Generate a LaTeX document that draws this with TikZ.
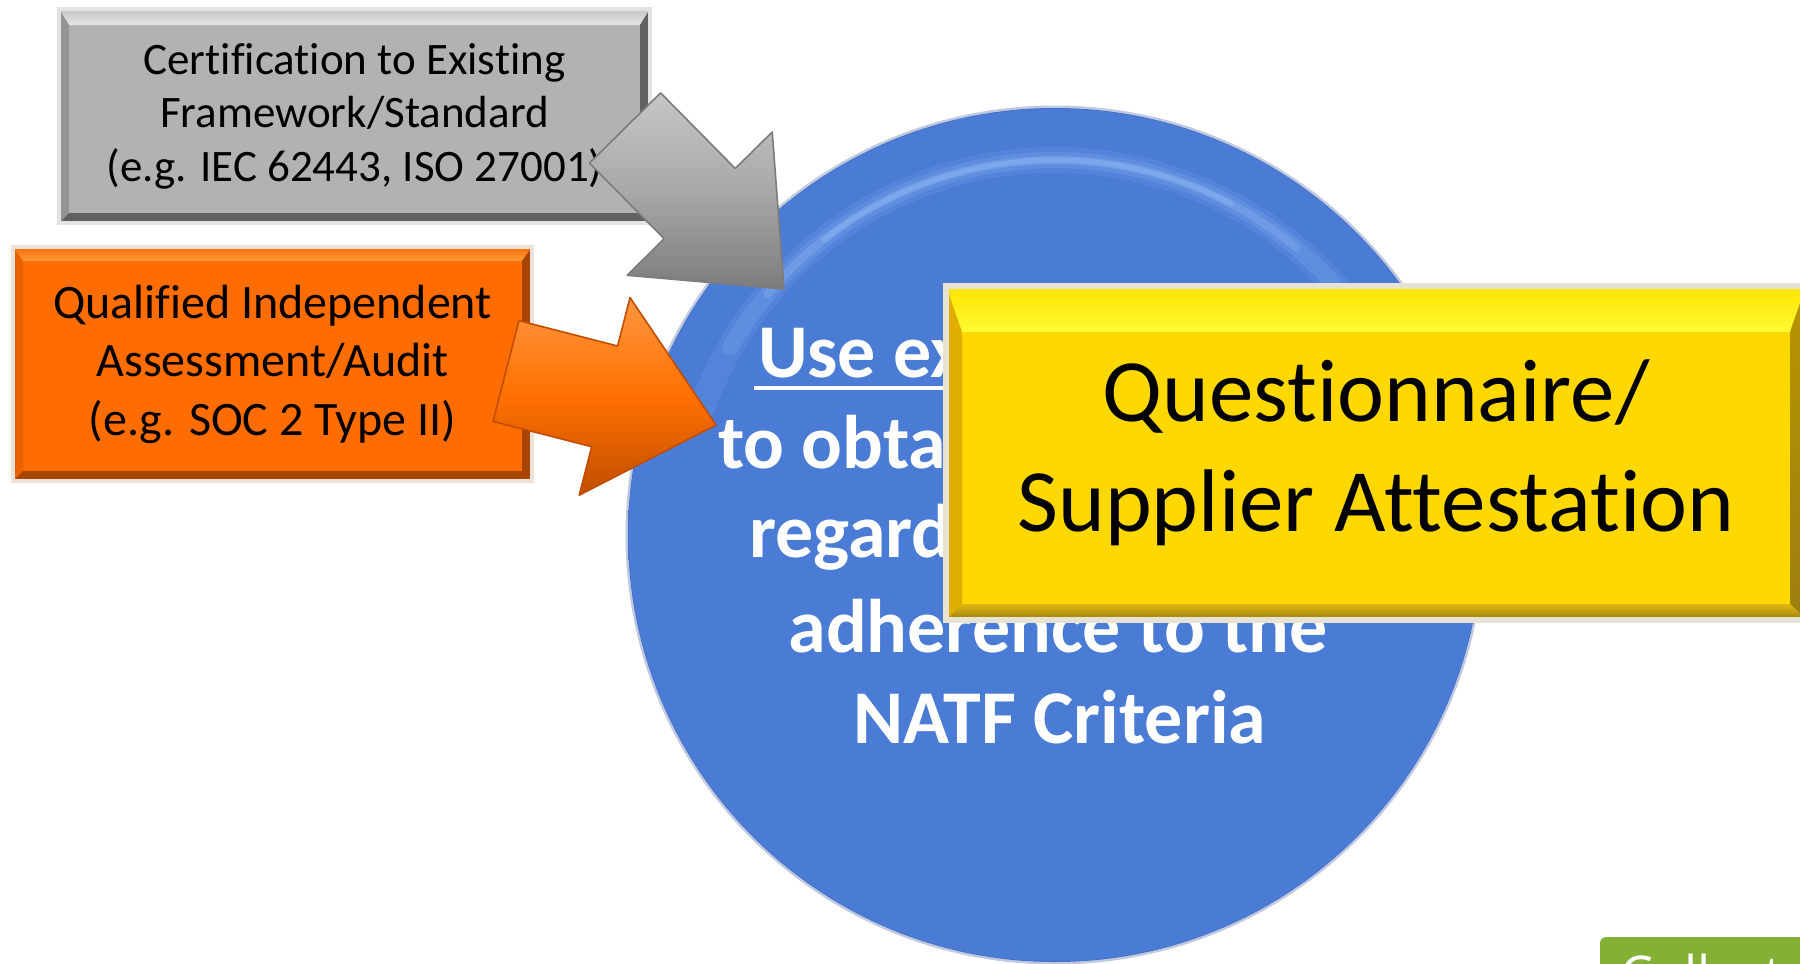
\documentclass[tikz,border=0pt]{standalone}
\usepackage{fontspec}
\setmainfont{Carlito}[Ligatures={NoCommon,NoContextual}]
\newfontfamily\btnfont{Open Sans}
\usetikzlibrary{calc}

\definecolor{orbmain}{HTML}{4A7BD5}
\definecolor{orbdeep}{HTML}{416EC6}
\definecolor{orbrim}{HTML}{2F4F98}
\definecolor{orbglow}{HTML}{A0C8FF}
\definecolor{certfill}{HTML}{B2B2B2}
\definecolor{certhi}{HTML}{E6E6E6}
\definecolor{certtop}{HTML}{C4C4C4}
\definecolor{certleft}{HTML}{949494}
\definecolor{certdark}{HTML}{616161}
\definecolor{certframe}{HTML}{E2E2E2}
\definecolor{auditfill}{HTML}{FF6D00}
\definecolor{audithi}{HTML}{FF9B3A}
\definecolor{auditleft}{HTML}{E86200}
\definecolor{auditdark}{HTML}{A84500}
\definecolor{auditframe}{HTML}{EDE2DA}
\definecolor{attestfill}{HTML}{FFD800}
\definecolor{attesthi}{HTML}{FFFB33}
\definecolor{attesttop}{HTML}{FFE200}
\definecolor{attestleft}{HTML}{DFAE00}
\definecolor{attestright}{HTML}{B89600}
\definecolor{attestlow}{HTML}{9C7E10}
\definecolor{attestmid}{HTML}{E0B810}
\definecolor{attestframe}{HTML}{E6E2D4}
\definecolor{arrowgrayhi}{HTML}{C6C6C6}
\definecolor{arrowgray}{HTML}{A8A8A8}
\definecolor{arrowgraylo}{HTML}{7C7C7C}
\definecolor{arroworhi}{HTML}{FF9640}
\definecolor{arroworange}{HTML}{FF7000}
\definecolor{arroworlo}{HTML}{C04E00}
\definecolor{btnfill}{HTML}{84B135}

% sphere body: flat blue centre, darker soft rim
\pgfdeclareradialshading{orbshade}{\pgfpoint{0bp}{0bp}}{%
  color(0bp)=(orbmain); color(40bp)=(orbmain); color(46bp)=(orbdeep);
  color(49bp)=(orbrim); color(50bp)=(orbrim!55!white)}

% bevelled frame on a rectangular node:
% #1 node, #2 side width, #3 top width, #4..#7 styles of top, left, right, bottom faces
\newcommand\bevelbox[7]{%
  \path[#4] (#1.north west) -- (#1.north east) -- ([shift={(-#2,#3)}]#1.north east) -- ([shift={(#2,#3)}]#1.north west) -- cycle;
  \path[#5] (#1.north west) -- ([shift={(#2,#3)}]#1.north west) -- ([shift={(#2,-#2)}]#1.south west) -- (#1.south west) -- cycle;
  \path[#6] (#1.north east) -- ([shift={(-#2,#3)}]#1.north east) -- ([shift={(-#2,-#2)}]#1.south east) -- (#1.south east) -- cycle;
  \path[#7] (#1.south west) -- (#1.south east) -- ([shift={(-#2,-#2)}]#1.south east) -- ([shift={(#2,-#2)}]#1.south west) -- cycle;
}

% block arrow from tail #1 to tip #2: half shaft #3, half head #4, head length #5, style #6
\newcommand\blockarrow[6]{%
  \coordinate (#1-neck) at ($(#2)!#5!(#1)$);
  \path[#6] ($(#1)!#3!90:(#2)$) -- ($(#1-neck)!#3!90:(#2)$) -- ($(#1-neck)!#4!90:(#2)$)
    -- (#2) -- ($(#1-neck)!#4!-90:(#2)$) -- ($(#1-neck)!#3!-90:(#2)$) -- ($(#1)!#3!-90:(#2)$) -- cycle;
}

\begin{document}
\begin{tikzpicture}[x=0.5pt, y=-0.5pt,
  box/.style={rectangle, inner sep=0pt, outer sep=0pt, align=center, text=black},
  certbox/.style={box, fill=certfill, minimum width=295.5pt, minimum height=107pt,
    font=\fontsize{22.5}{26.75}\selectfont},
  auditbox/.style={box, fill=auditfill, minimum width=259.5pt, minimum height=117pt,
    font=\fontsize{24}{29.25}\selectfont},
  attestbox/.style={box, fill=attestfill, minimum width=430pt, minimum height=167pt,
    font=\fontsize{44.5}{55}\selectfont},
  orbline/.style={inner sep=0pt, outer sep=0pt, text=white,
    font=\fontsize{38}{44}\selectfont\bfseries},
  btntext/.style={inner sep=0pt, outer sep=0pt, text=white,
    font=\btnfont\fontsize{26}{30}\selectfont},
  grayarrow/.style={top color=arrowgrayhi, bottom color=arrowgraylo, middle color=arrowgray,
    draw=arrowgraylo, line width=.8pt, line join=round},
  orangearrow/.style={top color=arroworhi, bottom color=arroworlo, middle color=arroworange,
    draw=arroworlo, line width=.8pt, line join=round},
]
\clip (0,0) rectangle (1800,964);
\fill[white] (0,0) rectangle (1800,964);

% the blue sphere
\node[circle, shade, shading=orbshade, minimum size=427pt, inner sep=0pt, outer sep=0pt] (orb) at (1055,535) {};
\draw[orbrim, draw opacity=.3, line width=1.5pt] (orb.center) circle[radius=428];
\foreach \a/\b/\w/\o in {200/330/13pt/.12, 210/320/8pt/.16, 220/310/4pt/.24, 232/298/2.5pt/.28}
  \draw[orbglow, line width=\w, draw opacity=\o, line cap=round]
    ([shift={(\a:375)}]orb.center) arc[start angle=\a, end angle=\b, radius=375];

% sphere caption
\node[orbline, anchor=base west] (l1) at (758,377) {Use ex};
\draw[white, line width=2pt] ([shift={(-4,11)}]l1.base west) -- ++(200,0);
\node[orbline, anchor=base west] (l2) at (718,468) {to obta};
\node[orbline, anchor=base west] (l3) at (749,557) {regard};
\node[orbline, anchor=base] (l4) at (1058,652) {adherence to the};
\node[orbline, anchor=base] (l5) at (1060,743) {NATF Criteria};

% certification box
\node[certbox] (cert) at (354.5,116) {Certification to Existing\\Framework/Standard\\(e.g. IEC 62443, ISO 27001)};
\bevelbox{cert}{10}{16}{top color=certtop, bottom color=certhi}{fill=certleft}{fill=certdark}{fill=certdark}
\draw[certframe, line width=2pt] (cert.north west) rectangle (cert.south east);

\coordinate (gtail) at (625,128);
\coordinate (gtip) at (784,289);
\blockarrow{gtail}{gtip}{25pt}{51pt}{60pt}{grayarrow}

% assessment box
\node[auditbox] (audit) at (272.5,364) {Qualified Independent\\Assessment/Audit\\(e.g. SOC 2 Type II)};
\bevelbox{audit}{10}{14}{top color=auditfill, bottom color=audithi}{fill=auditleft}{fill=auditdark}{fill=auditdark}
\draw[auditframe, line width=2pt] (audit.north west) rectangle (audit.south east);

\coordinate (otail) at (506,371);
\coordinate (otip) at (716,425);
\blockarrow{otail}{otip}{26pt}{51pt}{57.5pt}{orangearrow}

% questionnaire box
\node[attestbox] (attest) at (1376,453) {Questionnaire/\\Supplier Attestation};
\bevelbox{attest}{16}{46}{top color=attesttop, bottom color=attesthi}{fill=attestleft}{top color=attestright, bottom color=attestlow}{top color=attestmid, bottom color=attestlow}
\draw[attestframe, line width=3pt] (attest.north west) rectangle (attest.south east);

% green button at the lower edge
\fill[btnfill, rounded corners=3pt] (1600,937) rectangle (1850,1050);
\node[btntext, anchor=base west] (collect) at (1620,993) {Collect};
\end{tikzpicture}
\end{document}
